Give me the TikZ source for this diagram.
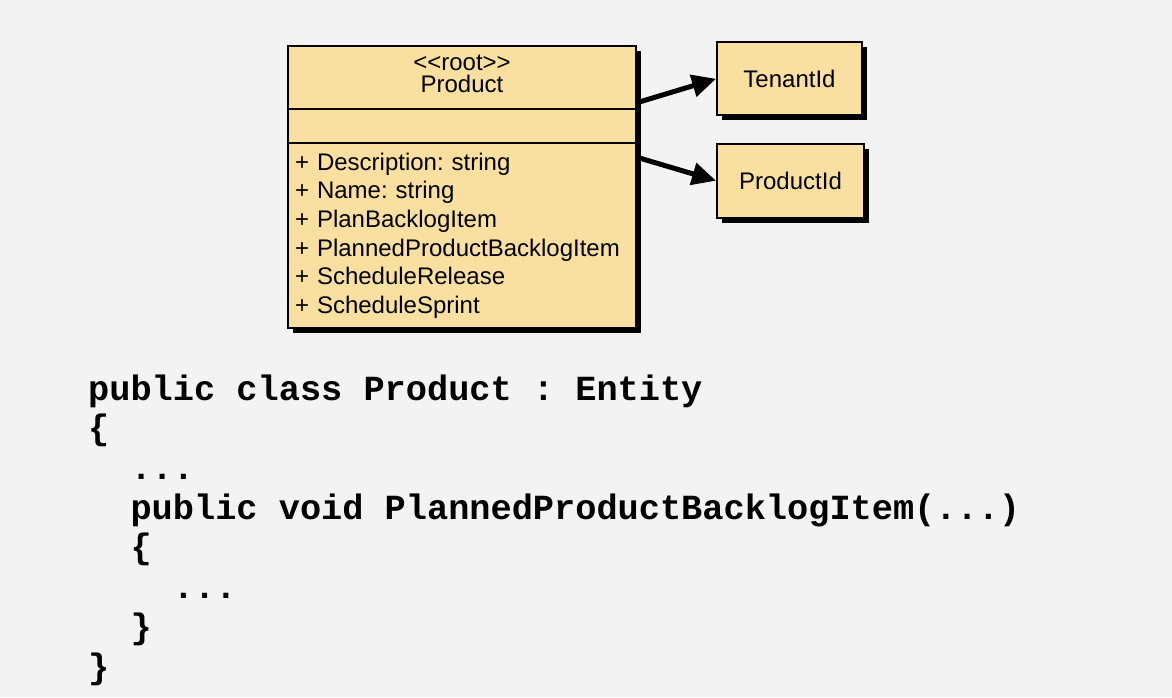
\documentclass[tikz,border=0pt]{standalone}
\usepackage{fontspec}
\setmainfont{Liberation Sans}
\setmonofont{Liberation Mono}
\usetikzlibrary{arrows.meta,shadows,positioning}
\definecolor{boxfill}{RGB}{249,224,160}
\definecolor{pagegray}{RGB}{243,243,243}
\frenchspacing

\begin{document}
\begin{tikzpicture}[x=1pt,y=-1pt,
		umlbox/.style={draw=black, line width=2.4pt, fill=boxfill, inner sep=0pt, outer sep=0pt,
			drop shadow={shadow xshift=5pt, shadow yshift=-5pt, opacity=1, fill=black},
			font=\fontsize{24}{28.6}\selectfont},
		assoc/.style={line width=5pt, shorten >=1pt, -{Triangle[length=24pt,width=22pt]}},
		codetext/.style={inner sep=0pt, align=left, font=\ttfamily\bfseries\fontsize{35.3}{39.7}\selectfont}]
		\fill [pagegray] (0,0) rectangle (1172,697);
		% the aggregate root
		\node [umlbox, anchor=north west, minimum width=348pt, minimum height=63pt, align=center, text depth=8pt,
			font=\fontsize{24}{22.5}\selectfont] (head) at (288,46) {<{}<root>{}>\\Product};
		\node [umlbox, anchor=north west, minimum width=348pt, minimum height=34pt] (attrs) at (head.south west) {};
		\node [umlbox, anchor=north west, text width=334pt, inner xsep=7pt, minimum height=185pt, align=left] (ops) at (attrs.south west)
			{+ Description: string\\+ Name: string\\+ PlanBacklogItem\\+ PlannedProductBacklogItem\\+ ScheduleRelease\\+ ScheduleSprint};
		% value objects
		\node [umlbox, minimum width=145pt, minimum height=73pt] (tenant) at (789.5,78.5) {TenantId};
		\node [umlbox, minimum width=147pt, minimum height=74pt] (prodid) at (790.5,181) {ProductId};
		\draw [assoc] ([yshift=6pt]head.south east) -- (tenant.west);
		\draw [assoc] ([yshift=-14pt]ops.north east) -- (prodid.west);
		% code
		\node [codetext, anchor=base west] (code) at (88,678)
			{public class Product : Entity\\
			\{\\
			\phantom{xx}...\\
			\phantom{xx}public void PlannedProductBacklogItem(...)\\
			\phantom{xx}\{\\
			\phantom{xxxx}...\\
			\phantom{xx}\}\\
			\}};
	\end{tikzpicture}
\end{document}
